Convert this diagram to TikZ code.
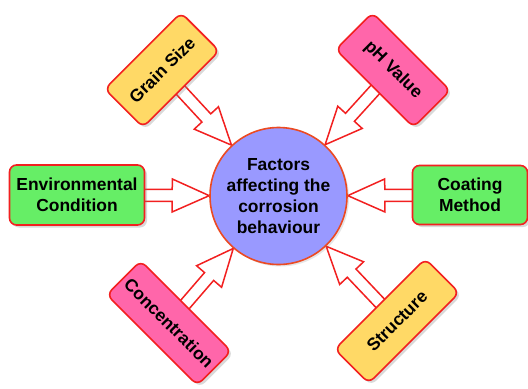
\documentclass[tikz,border=0pt]{standalone}
\usepackage{fontspec}
\setmainfont{Liberation Sans}
\usetikzlibrary{positioning,calc,shadows,backgrounds}

\definecolor{boxred}{RGB}{242,32,32}
\definecolor{ringred}{RGB}{236,74,34}
\definecolor{centreblue}{RGB}{153,153,255}
\definecolor{factorgreen}{RGB}{102,238,102}
\definecolor{factoryellow}{RGB}{255,217,102}
\definecolor{factorpink}{RGB}{255,102,170}

\tikzset{
  factor/.style={draw=boxred, line width=1.6bp, rounded corners=7bp, align=center,
    inner sep=0pt, font=\bfseries\fontsize{17.5}{21}\selectfont,
    drop shadow={shadow xshift=2.5bp,shadow yshift=-2.5bp,opacity=0.3}},
  fatarrow/.style={draw=boxred, fill=white, line width=1.5bp, line join=miter}
}

% hollow arrow from a factor box to the centre
\newcommand\factorarrow[1]{%
  \path (#1) -- (centre) coordinate[pos=0] (s) coordinate[pos=1] (e);
  \coordinate (s) at ($(s)!-3bp!(e)$);
  \coordinate (h) at ($(e)!37bp!(s)$);
  \draw[fatarrow] ($(s)!6bp!90:(e)$) -- ($(h)!6bp!90:(e)$) -- ($(h)!16.5bp!90:(e)$) -- (e)
    -- ($(h)!16.5bp!-90:(e)$) -- ($(h)!6bp!-90:(e)$) -- ($(s)!6bp!-90:(e)$) -- cycle;}

\begin{document}
\begin{tikzpicture}[x=1bp,y=1bp]
\useasboundingbox (0,0) rectangle (528,388);

\node[circle, minimum size=137bp, inner sep=0pt, fill=centreblue, draw=ringred, line width=1.6bp,
  align=center, font=\bfseries\fontsize{17.5}{21}\selectfont,
  drop shadow={shadow xshift=2bp,shadow yshift=-2bp,opacity=0.2}]
  (centre) at (278.5,192) {Factors\\affecting the\\corrosion\\behaviour};

\node[factor, fill=factorgreen, minimum width=135bp, minimum height=60bp] (env) at (77,193) {Environmental\\Condition};
\node[factor, fill=factorgreen, minimum width=115bp, minimum height=59bp] (coat) at (470,193) {Coating\\Method};
\node[factor, fill=factoryellow, minimum width=108bp, minimum height=54bp, rotate=45] (grain) at (162,318) {Grain Size};
\node[factor, fill=factorpink, minimum width=110bp, minimum height=52bp, rotate=-45] (ph) at (393,318) {pH Value};
\node[factor, fill=factorpink, minimum width=128bp, minimum height=48bp, rotate=-45] (conc) at (169,65) {Concentration};
\node[factor, fill=factoryellow, minimum width=128bp, minimum height=48bp, rotate=45] (struct) at (397,67) {Structure};

\begin{scope}[on background layer]
\foreach \b in {env,coat,grain,ph,conc,struct} {\factorarrow{\b}}
\end{scope}
\end{tikzpicture}
\end{document}
